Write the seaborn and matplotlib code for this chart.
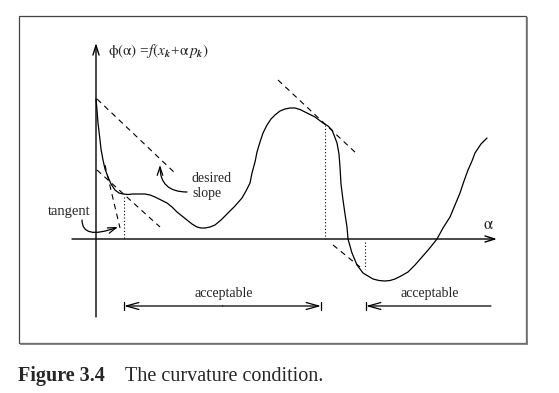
import matplotlib
matplotlib.use("Agg")
import matplotlib.pyplot as plt
import seaborn as sns
import pandas as pd
from matplotlib.patches import Rectangle

# ---------------- data (alpha, phi) ----------------
alpha_curve = [0, 1, 2, 4, 5, 7, 9, 12, 15, 19, 23, 27, 32, 37, 41, 45, 49, 54,
               59, 65, 71, 76, 81, 86, 91, 96, 101, 105, 109, 114, 119, 125,
               132, 139, 146, 150, 154, 156, 159, 161, 164, 167, 171, 175, 179,
               184, 189, 194, 199, 204, 209, 214, 219, 223, 227, 232, 236, 238,
               241, 243, 244, 245, 247, 249, 251, 252, 256, 261, 267, 272, 277,
               283, 289, 294, 299, 305, 312, 319, 326, 333, 341, 347, 354, 359,
               364, 368, 372, 376, 379, 385, 391]
phi_curve = [140, 129, 116, 99, 90, 79, 70, 62, 55, 49, 46, 45, 44.5, 45, 45, 45,
             45, 44, 42, 39, 36, 32, 27, 23, 19, 15, 12, 11, 11, 12, 14, 19,
             26, 33, 41, 48, 56, 66, 77, 87, 97, 106, 114, 120, 124,
             128, 130, 131, 131, 129.5, 127, 124.5, 122, 119, 116, 113, 109, 104,
             96, 85, 72, 55, 39, 25, 12, 0, -14, -26, -34, -37, -40,
             -41.5, -42, -41.5, -40, -37, -33, -26, -18, -10, 0, 11, 22, 34,
             46, 58, 69, 78, 86, 95, 101]

dash_alpha = [[1, 80], [9, 24], [1, 64], [182, 261], [237, 264]]
dash_phi = [[140, 65], [74, 11], [69, 12], [159, 85], [-6, -28]]

dotted_alpha = [28, 229, 269]
dotted_phi_top = [42, 114, -3]
dotted_phi_bottom = [0, 0, -30]

acc_lo = [28, 270]
acc_hi = [225, 395]
acc_label = ["acceptable", "acceptable"]

# ---------------- style ----------------
sns.set_style("white")
plt.rcParams["font.family"] = ["Liberation Serif", "DejaVu Serif"]
plt.rcParams["mathtext.fontset"] = "stix"

fig = plt.figure(figsize=(5.59, 3.93), dpi=100)
fig.patch.set_facecolor("white")
ax = fig.add_axes([0, 0, 1, 1])
ax.set_xlim(-96, 463)
ax.set_ylim(-154, 239)
ax.set_axis_off()

# frame box with shadow
ax.add_patch(Rectangle((-77, -104), 507, 327, fill=False, lw=0.9,
                       edgecolor="#444444", zorder=1))
ax.plot([431, 431], [-105, 222], color="#777777", lw=1.2, solid_capstyle="butt")
ax.plot([-76, 431.5], [-105, -105], color="#777777", lw=1.2, solid_capstyle="butt")

# axes with arrows
ax.annotate("", xy=(401, 0), xytext=(-24, 0),
            arrowprops=dict(arrowstyle="->,head_length=0.7,head_width=0.22",
                            lw=1.0, color="black", shrinkA=0, shrinkB=0))
ax.annotate("", xy=(0, 196), xytext=(0, -78),
            arrowprops=dict(arrowstyle="->,head_length=0.7,head_width=0.22",
                            lw=1.0, color="black", shrinkA=0, shrinkB=0))

# main curve
sns.lineplot(x=alpha_curve, y=phi_curve, sort=False, estimator=None,
             color="black", lw=0.9, ax=ax)

# dashed slope lines
rows = []
for i, (xs, ys) in enumerate(zip(dash_alpha, dash_phi)):
    for x, y in zip(xs, ys):
        rows.append({"seg": i, "a": x, "p": y})
df_dash = pd.DataFrame(rows)
sns.lineplot(data=df_dash, x="a", y="p", units="seg", estimator=None, sort=False,
             color="black", lw=0.8, linestyle=(0, (5, 4)), ax=ax)

# dotted verticals
rows = []
for i, (x, t, b) in enumerate(zip(dotted_alpha, dotted_phi_top, dotted_phi_bottom)):
    rows.append({"seg": i, "a": x, "p": t})
    rows.append({"seg": i, "a": x, "p": b})
df_dot = pd.DataFrame(rows)
sns.lineplot(data=df_dot, x="a", y="p", units="seg", estimator=None, sort=False,
             color="black", lw=0.8, linestyle=(0, (1, 2)), ax=ax)

# acceptable intervals
y_int = -67
ahead = "->,head_length=0.9,head_width=0.25"
ax.annotate("", xy=(acc_lo[0], y_int), xytext=((acc_lo[0] + acc_hi[0]) / 2, y_int),
            arrowprops=dict(arrowstyle=ahead, lw=0.9, color="black", shrinkA=0, shrinkB=0))
ax.annotate("", xy=(acc_hi[0], y_int), xytext=((acc_lo[0] + acc_hi[0]) / 2, y_int),
            arrowprops=dict(arrowstyle=ahead, lw=0.9, color="black", shrinkA=0, shrinkB=0))
ax.plot([acc_lo[0], acc_lo[0]], [y_int - 4, y_int + 4], color="black", lw=0.9)
ax.plot([acc_hi[0], acc_hi[0]], [y_int - 4, y_int + 4], color="black", lw=0.9)
ax.annotate("", xy=(acc_lo[1], y_int), xytext=(acc_hi[1], y_int),
            arrowprops=dict(arrowstyle=ahead, lw=0.9, color="black", shrinkA=0, shrinkB=0))
ax.plot([acc_lo[1], acc_lo[1]], [y_int - 4, y_int + 4], color="black", lw=0.9)

for lo, hi, lab in zip(acc_lo, acc_hi, acc_label):
    ax.text((lo + hi) / 2 + 1, -55, lab, ha="center", va="center", fontsize=10)

# labels
ax.text(12, 188, r"$\mathrm{\phi(\alpha)}$ =$f(x_{\mathbfit{k}}$+$\mathrm{\alpha}\, p_{\mathbfit{k}})$",
        ha="left", va="center", fontsize=11)
ax.text(392, 14, r"$\mathrm{\alpha}$", ha="center", va="center", fontsize=12)

ax.text(96, 57, "desired", ha="left", va="baseline", fontsize=10)
ax.text(96, 42, "slope", ha="left", va="baseline", fontsize=10)
ax.annotate("", xy=(64, 74), xytext=(91, 47),
            arrowprops=dict(arrowstyle="->,head_length=0.6,head_width=0.2", lw=0.9,
                            color="black", shrinkA=0, shrinkB=0,
                            connectionstyle="angle3,angleA=0,angleB=90"))

ax.text(-48, 24, "tangent", ha="left", va="baseline", fontsize=10.5)
ax.annotate("", xy=(22, 12), xytext=(-14, 19),
            arrowprops=dict(arrowstyle="->,head_length=0.6,head_width=0.2", lw=0.9,
                            color="black", shrinkA=0, shrinkB=0,
                            connectionstyle="angle3,angleA=90,angleB=20"))

# caption
fig.text(18 / 559, 1 - 381 / 393, "Figure 3.4", fontsize=14.5, fontweight="bold",
         ha="left", va="baseline")
fig.text(125 / 559, 1 - 381 / 393, "The curvature condition.", fontsize=14.5,
         ha="left", va="baseline")

fig.savefig("out.png", dpi=100, facecolor="white")
